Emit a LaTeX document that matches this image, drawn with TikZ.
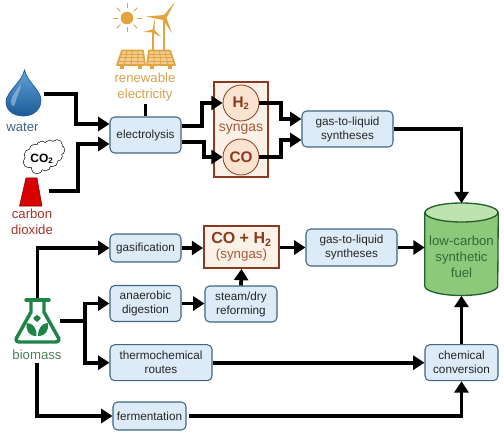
\documentclass[tikz,border=0pt]{standalone}
\usepackage{fontspec}
\setmainfont{Liberation Sans}
\usetikzlibrary{arrows.meta,calc}
\definecolor{boxfill}{HTML}{DCEBF7}
\definecolor{boxline}{HTML}{3F6580}
\definecolor{brownline}{HTML}{8A3A1E}
\definecolor{brownfill}{HTML}{FCF1E7}
\definecolor{circfill}{HTML}{FAE3CF}
\definecolor{browntext}{HTML}{A65A3A}
\definecolor{orng}{HTML}{E3A43F}
\definecolor{orngtext}{HTML}{D6A24E}
\definecolor{grn}{HTML}{1E8449}
\definecolor{grntext}{HTML}{4E8058}
\definecolor{redtext}{HTML}{A8322A}
\definecolor{fuelbody}{HTML}{8DC97A}
\definecolor{fueltop}{HTML}{BFE3AE}
\definecolor{fuelline}{HTML}{24602C}
\definecolor{fueltext}{HTML}{2F6B36}
\definecolor{droptop}{HTML}{5FA3D6}
\definecolor{dropbot}{HTML}{1C5A98}
\tikzset{
  sized/.style 2 args={minimum width=#1*0.75pt,minimum height=#2*0.75pt,inner sep=0pt},
  procbox/.style={draw=boxline,line width=0.8pt,fill=boxfill,rounded corners=3.5pt,align=center,text=black!85,font=\fontsize{8.8}{10.5}\selectfont},
  brownbox/.style={draw=brownline,line width=1.3pt,fill=brownfill,inner sep=0pt},
  gascirc/.style={circle,draw=brownline,line width=0.6pt,fill=circfill,minimum size=27pt,inner sep=0pt,text=brownline,font=\bfseries\fontsize{11.5}{13}\selectfont},
  conn/.style={draw=black,line width=2.8pt,-{Triangle[length=8.5pt,width=10.5pt]}},
  plainconn/.style={draw=black,line width=2.8pt},
  iconlabel/.style={align=center,inner sep=0pt,font=\fontsize{9.9}{12}\selectfont},
  icon/.style={inner sep=0pt,draw=none},
}
\begin{document}
\begin{tikzpicture}[x=0.75pt,y=-0.75pt]
\useasboundingbox (0,0) rectangle (504,435);
% process boxes
\node[procbox,sized={71}{36}] (elec) at (145.5,135) {electrolysis};
\node[procbox,sized={91}{36}] (gtla) at (347.5,129) {gas-to-liquid\\syntheses};
\node[procbox,sized={91}{37}] (gtlb) at (351.5,247.5) {gas-to-liquid\\syntheses};
\node[procbox,sized={71}{28}] (gasif) at (145.5,248) {gasification};
\node[procbox,sized={71}{36}] (anaer) at (145.5,303.5) {anaerobic\\digestion};
\node[procbox,sized={72}{36}] (steam) at (241,304) {steam/dry\\reforming};
\node[procbox,sized={102}{36}] (thermo) at (161,362.7) {thermochemical\\routes};
\node[procbox,sized={73}{28}] (ferm) at (149.5,416) {fermentation};
\node[procbox,sized={73}{36}] (chem) at (461.5,362.7) {chemical\\conversion};
% syngas group
\node[brownbox,sized={54}{95}] (group) at (241,129.5) {};
\node[gascirc] (hh) at (241,103) {H\textsubscript{\fontsize{7}{8}\selectfont 2}};
\node[gascirc] (co) at (241,157) {CO};
\node[inner sep=0pt,text=browntext,font=\fontsize{10.5}{12}\selectfont] (synlab) at (241,129.5) {syngas};
\node[brownbox,sized={75}{42},align=center] (mix) at (241.5,247) {{\bfseries\fontsize{12}{14}\selectfont\color{brownline}CO + H\textsubscript{\fontsize{8}{9}\selectfont 2}}\\[-1pt]{\fontsize{10}{12}\selectfont\color{browntext}(syngas)}};
% fuel cylinder
\node[icon,sized={73}{92}] (fuel) at (461.5,249.5) {};
\draw[fuelline,line width=1pt,fill=fuelbody] (fuel.west |- 0,212.5) -- (fuel.west |- 0,286) arc[start angle=180,end angle=360,x radius=36.5,y radius=-9.5] -- (fuel.east |- 0,212.5) -- cycle;
\draw[fuelline,line width=1pt,fill=fueltop] (461.5,212.5) ellipse[x radius=36.5,y radius=9.5];
\node[inner sep=0pt,align=center,text=fueltext,font=\fontsize{9.9}{12}\selectfont] (fuellab) at (461.5,257) {low-carbon\\synthetic\\fuel};
% renewable
\node[iconlabel,text=orngtext] (renew) at (145,87) {renewable\\electricity};
% sun
\fill[orng] (127,18) circle (6.3);
\foreach \a in {0,45,...,315}{\draw[orng,line width=0.7pt] (127,18) ++(\a:9.5) -- ++(\a:5);}
% turbines
\begin{scope}[orng,line cap=round,line join=round]
\draw[line width=1.6pt] (164,17) -- (164,50);
\fill (164,15) -- (175,2) -- (166.5,18) -- (172,33) -- (163,20) -- (146,16.5) -- cycle;
\draw[line width=1.1pt] (153,31) -- (153,50);
\fill (152.5,29.5) -- (155,18) -- (154.5,30) -- (161,37) -- (152.5,32.5) -- (143,32) -- cycle;
% panels
\draw[line width=1.3pt,fill=orng!55] (122,50.5) -- (143,50.5) -- (145,65) -- (117,65) -- cycle;
\draw[line width=1.3pt,fill=orng!55] (149,50.5) -- (170,50.5) -- (175,65) -- (147,65) -- cycle;
\foreach \t in {0.25,0.5,0.75}{
 \draw[line width=0.7pt] ($(122,50.5)!\t!(143,50.5)$) -- ($(117,65)!\t!(145,65)$);
 \draw[line width=0.7pt] ($(149,50.5)!\t!(170,50.5)$) -- ($(147,65)!\t!(175,65)$);
 \draw[line width=0.7pt] ($(122,50.5)!\t!(117,65)$) -- ($(143,50.5)!\t!(145,65)$);
 \draw[line width=0.7pt] ($(149,50.5)!\t!(147,65)$) -- ($(170,50.5)!\t!(175,65)$);
}
\foreach \x in {122,140,152,170}{\fill (\x-2,65.5) rectangle (\x+2,69);}
\end{scope}
% water
\node[icon,sized={38}{46}] (drop) at (25,94) {};
\shade[top color=droptop,bottom color=dropbot,draw=dropbot,line width=0.5pt]
  (24.5,70) .. controls (22,82) and (6,92) .. (6,102) .. controls (6,111) and (14,116) .. (23.5,116)
  .. controls (33,116) and (41,110) .. (41,100) .. controls (41,90) and (27,82) .. (24.5,70) -- cycle;
\fill[white,opacity=0.35] (11,101) .. controls (12,95) and (17,90) .. (21,84) .. controls (20,92) and (16,98) .. (15,104) .. controls (14,108) and (11,106) .. (11,101) -- cycle;
\node[iconlabel,text=boxline] (waterlab) at (22.5,127) {water};
% CO2 cloud
\begin{scope}[line width=0.9pt]
\foreach \p/\r in {(29,162)/5.5,(30,155)/5.5,(35,150)/5.5,(42,147)/5.5,(50,146)/5.5,(57,145)/5,(60,150)/4.5,(57,156)/5,(52,161)/5.5,(45,165)/5.5,(37,168)/5.5}{\draw[black] \p circle (\r);}
\foreach \p/\r in {(29,162)/5.5,(30,155)/5.5,(35,150)/5.5,(42,147)/5.5,(50,146)/5.5,(57,145)/5,(60,150)/4.5,(57,156)/5,(52,161)/5.5,(45,165)/5.5,(37,168)/5.5,(43,156)/11,(35,160)/8,(52,152)/8}{\fill[white] \p circle (\r);}
\end{scope}
\node[inner sep=0pt,font=\fontsize{9}{10}\selectfont] (cotwo) at (42,159) {\textbf{CO}\textsubscript{\fontsize{6}{7}\selectfont\bfseries 2}};
\node[icon,sized={30}{30}] (chim) at (34,191) {};
\fill[red!85!black,draw=red!50!black,line width=0.4pt] (26,178) -- (37,178) -- (42,206) -- (19.5,206) -- cycle;
\node[iconlabel,text=redtext] (carbon) at (32,222) {carbon\\dioxide};
% flask
\node[icon,sized={45}{46}] (flask) at (37.5,321) {};
\draw[grn,line width=2.6pt,line join=round,fill=white] (31,300.5) -- (31,312) -- (16.5,338) .. controls (15.5,341) and (17,342) .. (19,342) -- (56,342) .. controls (58,342) and (59.5,341) .. (58.5,338) -- (44,312) -- (44,300.5);
\draw[grn,line width=2.6pt,line cap=round] (26,300) -- (49,300);
\fill[grn] (37,322) .. controls (32,318) and (32,318) .. (37,315) .. controls (42,318) and (42,318) .. (37,322) -- cycle;
\fill[grn] (36.5,336) .. controls (28,336) and (26,330) .. (26.5,323) .. controls (33,323) and (37,328) .. (36.5,336) -- cycle;
\fill[grn] (38,336) .. controls (46,336) and (49,330) .. (48,323) .. controls (42,323) and (38,328) .. (38,336) -- cycle;
\node[iconlabel,text=grntext] (biomass) at (37,355) {biomass};
% connectors
\coordinate (wbend) at (76,124);
\draw[conn] (drop.east) -| (wbend) -- (wbend -| elec.west);
\coordinate (cbend) at (78,144);
\draw[conn] (chim.east) -| (cbend) -- (cbend -| elec.west);
\draw[plainconn] (renew.south -| elec.north) ++(0,3) -- (elec.north);
\coordinate (ea) at (202,126);
\coordinate (eb) at (204,142);
\draw[conn] (ea -| elec.east) -- (ea) |- (hh.west);
\draw[conn] (eb -| elec.east) -- (eb) |- (co.west);
\coordinate (ga) at (281,119);
\coordinate (gb) at (281,140);
\draw[conn] (hh.east) -| (ga) -- (ga -| gtla.west);
\draw[conn] (co.east) -| (gb) -- (gb -| gtla.west);
\draw[conn] (gtla.east) -| (fuel.north);
\draw[conn] (flask.north) |- (gasif.west);
\draw[conn] (gasif.east) -- (gasif.east -| mix.west);
\draw[conn] (mix.east |- gtlb.west) -- (gtlb.west);
\draw[conn] (gtlb.east) -- (gtlb.east -| fuel.west);
\draw[conn] (anaer.east) -- (anaer.east -| steam.west);
\draw[conn] (steam.north) -- (mix.south);
\coordinate (branch) at (85,321);
\draw[plainconn] (flask.east) -- (branch);
\draw[conn] (branch) |- (anaer.west);
\draw[conn] (branch) |- (thermo.west);
\draw[conn] (thermo.east) -- (thermo.east -| chem.west);
\draw[conn] (biomass.south) ++(0,3) |- (ferm.west);
\draw[conn,shorten <=2pt] (ferm.east) -| (chem.south);
\draw[conn] (chem.north) -- (fuel.south);
\end{tikzpicture}
\end{document}
